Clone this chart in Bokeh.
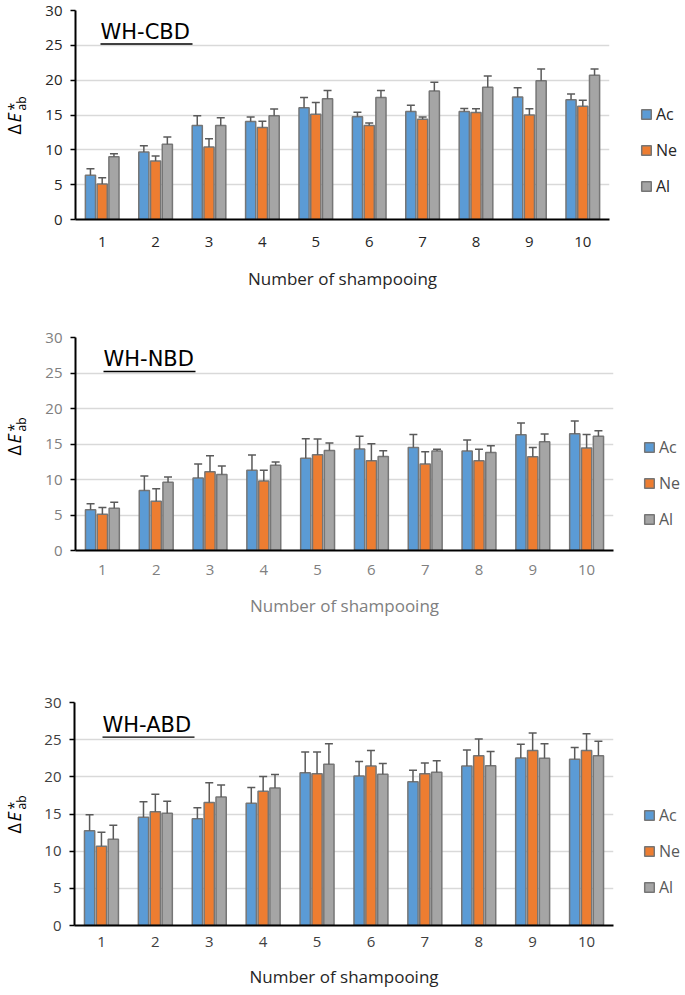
from math import pi
from bokeh.plotting import figure
from bokeh.models import (ColumnDataSource, Range1d, FixedTicker, Whisker, TeeHead,
                          Legend, LegendItem, Label)
from bokeh.layouts import column, row
from bokeh.embed import file_html
from bokeh.resources import INLINE

# ---------------- data ----------------
shampooing = [1, 2, 3, 4, 5, 6, 7, 8, 9, 10]
y_ticks = [0, 5, 10, 15, 20, 25, 30]
series_names = ["Ac", "Ne", "Al"]
series_colors = ["#5B9BD5", "#ED7D31", "#A5A5A5"]
panel_titles = ["WH-CBD", "WH-NBD", "WH-ABD"]
x_label = "Number of shampooing"

# WH-CBD
cbd_ac = [6.35, 9.7, 13.5, 14.05, 16.05, 14.75, 15.5, 15.5, 17.6, 17.2]
cbd_ac_err = [0.95, 0.9, 1.4, 0.65, 1.45, 0.65, 0.9, 0.45, 1.3, 0.8]
cbd_ne = [5.1, 8.4, 10.4, 13.2, 15.1, 13.5, 14.4, 15.35, 15.0, 16.25]
cbd_ne_err = [0.9, 0.7, 1.2, 0.9, 1.7, 0.35, 0.3, 0.55, 0.9, 0.85]
cbd_al = [9.0, 10.8, 13.5, 14.9, 17.35, 17.5, 18.45, 19.0, 19.9, 20.7]
cbd_al_err = [0.45, 1.05, 1.1, 0.95, 1.15, 1.0, 1.25, 1.6, 1.7, 0.9]

# WH-NBD
nbd_ac = [5.75, 8.45, 10.2, 11.3, 13.0, 14.3, 14.5, 14.0, 16.3, 16.45]
nbd_ac_err = [0.85, 2.05, 2.0, 2.15, 2.75, 1.8, 1.85, 1.55, 1.65, 1.8]
nbd_ne = [5.1, 6.95, 11.1, 9.8, 13.5, 12.65, 12.2, 12.65, 13.2, 14.45]
nbd_ne_err = [0.95, 1.75, 2.25, 1.5, 2.2, 2.4, 1.7, 1.6, 1.3, 1.9]
nbd_al = [5.95, 9.6, 10.7, 12.0, 14.1, 13.25, 14.0, 13.8, 15.3, 16.1]
nbd_al_err = [0.85, 0.75, 1.2, 0.45, 1.05, 0.8, 0.25, 0.95, 1.1, 0.75]

# WH-ABD
abd_ac = [12.75, 14.55, 14.35, 16.45, 20.55, 20.1, 19.35, 21.45, 22.55, 22.35]
abd_ac_err = [2.15, 2.1, 1.5, 2.1, 2.8, 1.95, 1.55, 2.15, 1.85, 1.6]
abd_ne = [10.65, 15.3, 16.55, 18.05, 20.4, 21.45, 20.4, 22.85, 23.55, 23.55]
abd_ne_err = [1.9, 2.35, 2.65, 2.0, 2.95, 2.1, 1.45, 2.25, 2.35, 2.25]
abd_al = [11.6, 15.1, 17.3, 18.5, 21.7, 20.35, 20.6, 21.5, 22.5, 22.85]
abd_al_err = [1.9, 1.6, 1.6, 1.8, 2.75, 1.45, 1.55, 1.9, 1.95, 1.95]

FONT = "Open Sans"
OFFSETS = [-0.22, 0.0, 0.22]
BAR_W = 0.19
BAR_LINE = "#767676"
ERR_COLOR = "#5A5A5A"
YLAB_W = 36
LEG_W = 65
MAIN_W = 685 - YLAB_W - LEG_W


def blank_fig(width, height, fh):
    # frame of this helper figure is aligned (by the row) with the main plot frame
    f = figure(width=width, height=height, output_backend="svg", toolbar_location=None,
               x_range=Range1d(0, width), y_range=Range1d(0, fh),
               x_axis_location=None, y_axis_location=None, min_border=0)
    f.grid.visible = False
    f.outline_line_color = None
    return f


def make_ylabel(height, fh, by):
    f = blank_fig(YLAB_W, height, fh)
    common = dict(angle=pi / 2, text_baseline="alphabetic", text_align="left", text_color="black")
    f.add_layout(Label(x=13, y=by, text="Δ", text_font=FONT, text_font_size="18px", **common))
    f.add_layout(Label(x=13, y=by + 12, text="E", text_font=FONT, text_font_size="18px",
                       text_font_style="italic", **common))
    f.add_layout(Label(x=13, y=by + 24, text="*", text_font=FONT, text_font_size="14px", **common))
    f.add_layout(Label(x=21, y=by + 24, text="ab", text_font=FONT, text_font_size="12px", **common))
    return f


def make_legend(height, fh, loc, color, values):
    f = blank_fig(LEG_W, height, fh)
    items = []
    for name, c, vals in zip(series_names, series_colors, values):
        r = f.vbar(x=shampooing, top=vals, width=1, fill_color=c, line_color=BAR_LINE,
                   line_width=1.5, visible=False)
        items.append(LegendItem(label=name, renderers=[r]))
    legend = Legend(items=items, location=loc, orientation="vertical",
                    glyph_width=12, glyph_height=12, label_height=20, spacing=14,
                    padding=0, margin=0, label_standoff=4, click_policy="none",
                    inactive_fill_alpha=0,
                    label_text_font=FONT, label_text_font_size="16px",
                    label_text_color=color,
                    border_line_color=None, background_fill_alpha=0)
    f.add_layout(legend)
    return f


def make_main(title, values, errors, cfg):
    left = cfg["frame_left"] - YLAB_W
    p = figure(width=MAIN_W, height=cfg["height"], output_backend="svg", toolbar_location=None,
               x_range=Range1d(0.5, 10.5), y_range=Range1d(0, 30),
               min_border_left=left, min_border_right=MAIN_W - left - cfg["fw"],
               min_border_top=cfg["top"], min_border_bottom=cfg["height"] - cfg["top"] - cfg["fh"])
    p.outline_line_color = None
    p.xgrid.grid_line_color = None
    p.ygrid.grid_line_color = "#D9D9D9"
    p.ygrid.grid_line_width = 1.5
    p.ygrid.ticker = FixedTicker(ticks=y_ticks)

    p.yaxis.ticker = FixedTicker(ticks=y_ticks)
    p.yaxis.axis_line_color = "black"
    p.yaxis.axis_line_width = 2
    p.yaxis.major_tick_line_color = "black"
    p.yaxis.major_tick_line_width = 1.5
    p.yaxis.major_tick_out = 5
    p.yaxis.major_tick_in = 0
    p.yaxis.minor_tick_line_color = None
    p.yaxis.major_label_text_font = FONT
    p.yaxis.major_label_text_font_size = "15px"
    p.yaxis.major_label_text_color = cfg["tick_color"]
    p.yaxis.major_label_standoff = 8

    p.xaxis.ticker = FixedTicker(ticks=shampooing)
    p.xaxis.axis_line_color = "black"
    p.xaxis.axis_line_width = 2
    p.xaxis.major_tick_line_color = None
    p.xaxis.minor_tick_line_color = None
    p.xaxis.major_tick_out = 0
    p.xaxis.major_tick_in = 0
    p.xaxis.major_label_text_font = FONT
    p.xaxis.major_label_text_font_size = "15px"
    p.xaxis.major_label_text_color = cfg["tick_color"]
    p.xaxis.major_label_standoff = cfg["xstand"]
    p.xaxis.axis_label = x_label
    p.xaxis.axis_label_text_font = FONT
    p.xaxis.axis_label_text_font_style = "normal"
    p.xaxis.axis_label_text_font_size = "17px"
    p.xaxis.axis_label_text_color = cfg["xlabel_color"]
    p.xaxis.axis_label_standoff = cfg["xlstand"]

    for color, off, vals, errs in zip(series_colors, OFFSETS, values, errors):
        xs = [n + off for n in shampooing]
        src = ColumnDataSource(dict(x=xs, top=vals, up=[v + e for v, e in zip(vals, errs)]))
        p.vbar(x="x", top="top", bottom=0, width=BAR_W, source=src,
               fill_color=color, line_color=BAR_LINE, line_width=1.5)
        p.add_layout(Whisker(base="x", lower="top", upper="up", source=src,
                             line_color=ERR_COLOR, line_width=1.5,
                             upper_head=TeeHead(size=8, line_color=ERR_COLOR, line_width=1.5),
                             lower_head=None, level="glyph"))

    # underlined panel title (given as pixel offsets from the frame's top-left corner)
    px_x = 10.0 / cfg["fw"]
    px_y = 30.0 / cfg["fh"]
    tx, ty, uy, tw = cfg["title_px"]
    x0 = 0.5 + tx * px_x
    p.add_layout(Label(x=x0, y=30 - ty * px_y, text=title, text_font="DejaVu Sans",
                       text_font_size="21px", text_color="black",
                       text_baseline="alphabetic", text_align="left"))
    p.segment(x0=[x0], y0=[30 - uy * px_y], x1=[x0 + tw * px_x], y1=[30 - uy * px_y],
              line_color="black", line_width=1.3)
    return p


panels = [
    (panel_titles[0], [cbd_ac, cbd_ne, cbd_al], [cbd_ac_err, cbd_ne_err, cbd_al_err],
     dict(height=300, top=10, fh=209, frame_left=75, fw=534,
          tick_color="#262626", xlabel_color="#262626", legend_color="#262626",
          xstand=17, xlstand=17, title_px=(25, 21.5, 33.5, 92),
          ylab_y=85, legend_loc=(20, 22))),
    (panel_titles[1], [nbd_ac, nbd_ne, nbd_al], [nbd_ac_err, nbd_ne_err, nbd_al_err],
     dict(height=340, top=37, fh=213, frame_left=75, fw=538,
          tick_color="#808080", xlabel_color="#808080", legend_color="#595959",
          xstand=14, xlstand=16, title_px=(28, 21.8, 34, 92),
          ylab_y=95, legend_loc=(23, 20))),
    (panel_titles[2], [abd_ac, abd_ne, abd_al], [abd_ac_err, abd_ne_err, abd_al_err],
     dict(height=353, top=62, fh=223, frame_left=74, fw=539,
          tick_color="#404040", xlabel_color="#262626", legend_color="#595959",
          xstand=11, xlstand=15, title_px=(28, 22.5, 34.7, 92),
          ylab_y=92, legend_loc=(23, 27))),
]

rows = []
for title, vals, errs, cfg in panels:
    ylab = make_ylabel(cfg["height"], cfg["fh"], cfg["ylab_y"])
    main = make_main(title, vals, errs, cfg)
    leg = make_legend(cfg["height"], cfg["fh"], cfg["legend_loc"], cfg["legend_color"], vals)
    rows.append(row(ylab, main, leg, spacing=0))

layout = column(*rows, spacing=0)
open("out.html", "w").write(file_html(layout, INLINE))
